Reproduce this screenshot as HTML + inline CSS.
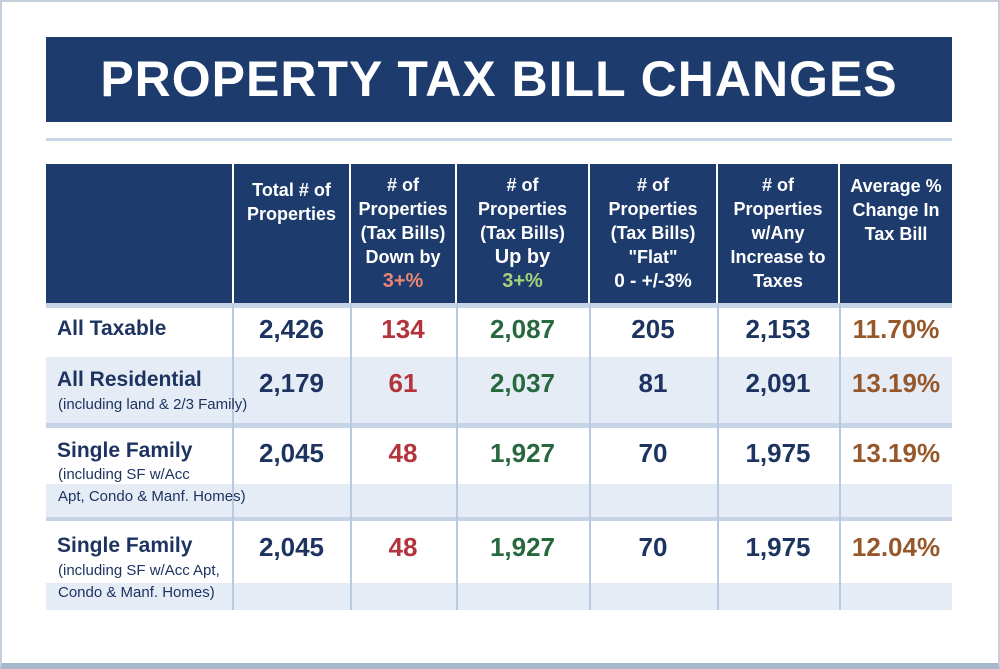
<!DOCTYPE html>
<html><head><meta charset="utf-8"><style>
body{margin:0;width:1000px;height:667px;overflow:hidden;background:#fff;font-family:"Liberation Sans",sans-serif;position:relative}
.a{position:absolute}
.frame{left:0;top:0;width:996px;height:661px;border:2px solid #c5cfdc;border-bottom:6px solid #a8b8cc}
.title{left:46px;top:37px;width:906px;height:85px;background:#1d3b6c;color:#fff;font-weight:bold;font-size:50px;line-height:85px;text-align:center;letter-spacing:1px}
.hl{left:46px;top:138px;width:906px;height:3px;background:#c9d6e8}
.hd{top:164px;height:139px;background:#1d3b6c;color:#fff;font-weight:bold;font-size:18px;line-height:24px;text-align:center;box-sizing:border-box;padding-top:9px}
.band{left:46px;width:906px;background:#e5ecf6}
.vl{width:2px;background:#b9c9e0}
.num{font-weight:bold;font-size:26px;text-align:center;color:#1d3461}
.lab{left:57px;font-weight:bold;font-size:21px;color:#1d3461}
.sub{left:58px;font-size:15px;color:#1d3461;line-height:22px}
</style></head><body>
<div class="a frame"></div>
<div class="a title">PROPERTY TAX BILL CHANGES</div>
<div class="a hl"></div>

<div class="a hd" style="left:46px;width:186px"></div>
<div class="a hd" style="left:234px;width:115px;padding-top:14px">Total # of<br>Properties</div>
<div class="a hd" style="left:351px;width:104px">#&nbsp;of<br>Properties<br>(Tax Bills)<br>Down by<br><span style="color:#ec8574;font-size:20px">3+%</span></div>
<div class="a hd" style="left:457px;width:131px">#&nbsp;of<br>Properties<br>(Tax Bills)<br><span style="font-size:20px">Up by</span><br><span style="color:#a6d17a;font-size:20px">3+%</span></div>
<div class="a hd" style="left:590px;width:126px">#&nbsp;of<br>Properties<br>(Tax Bills)<br>"Flat"<br><span style="font-size:19px">0 - +/-3%</span></div>
<div class="a hd" style="left:718px;width:120px">#&nbsp;of<br>Properties<br>w/Any<br>Increase to<br>Taxes</div>
<div class="a hd" style="left:840px;width:112px;padding-top:10px">Average %<br>Change In<br>Tax Bill</div>

<div class="a band" style="top:303px;height:5px;background:#c7d4e7"></div>
<div class="a band" style="top:357px;height:66px"></div>
<div class="a band" style="top:423px;height:5px;background:#c7d4e7"></div>
<div class="a band" style="top:484px;height:33px"></div>
<div class="a band" style="top:517px;height:4px;background:#c7d4e7"></div>
<div class="a band" style="top:583px;height:27px"></div>

<div class="a vl" style="left:232px;top:303px;height:307px"></div>
<div class="a vl" style="left:350px;top:303px;height:307px"></div>
<div class="a vl" style="left:456px;top:303px;height:307px"></div>
<div class="a vl" style="left:589px;top:303px;height:307px"></div>
<div class="a vl" style="left:717px;top:303px;height:307px"></div>
<div class="a vl" style="left:839px;top:303px;height:307px"></div>

<div class="a lab" style="top:317px">All Taxable</div>
<div class="a lab" style="top:368px">All Residential</div>
<div class="a sub" style="top:394px">(including land &amp; 2/3 Family)</div>
<div class="a lab" style="top:439px">Single Family</div>
<div class="a sub" style="top:464px">(including SF w/Acc<br>Apt, Condo &amp; Manf. Homes)</div>
<div class="a lab" style="top:534px">Single Family</div>
<div class="a sub" style="top:560px">(including SF w/Acc Apt,<br>Condo &amp; Manf. Homes)</div>

<div class="a num" style="left:234px;width:115px;top:314px">2,426</div>
<div class="a num" style="left:351px;width:104px;top:314px;color:#b3343c">134</div>
<div class="a num" style="left:457px;width:131px;top:314px;color:#27683f">2,087</div>
<div class="a num" style="left:590px;width:126px;top:314px">205</div>
<div class="a num" style="left:718px;width:120px;top:314px">2,153</div>
<div class="a num" style="left:840px;width:112px;top:314px;color:#96582a">11.70%</div>

<div class="a num" style="left:234px;width:115px;top:368px">2,179</div>
<div class="a num" style="left:351px;width:104px;top:368px;color:#b3343c">61</div>
<div class="a num" style="left:457px;width:131px;top:368px;color:#27683f">2,037</div>
<div class="a num" style="left:590px;width:126px;top:368px">81</div>
<div class="a num" style="left:718px;width:120px;top:368px">2,091</div>
<div class="a num" style="left:840px;width:112px;top:368px;color:#96582a">13.19%</div>

<div class="a num" style="left:234px;width:115px;top:438px">2,045</div>
<div class="a num" style="left:351px;width:104px;top:438px;color:#b3343c">48</div>
<div class="a num" style="left:457px;width:131px;top:438px;color:#27683f">1,927</div>
<div class="a num" style="left:590px;width:126px;top:438px">70</div>
<div class="a num" style="left:718px;width:120px;top:438px">1,975</div>
<div class="a num" style="left:840px;width:112px;top:438px;color:#96582a">13.19%</div>

<div class="a num" style="left:234px;width:115px;top:532px">2,045</div>
<div class="a num" style="left:351px;width:104px;top:532px;color:#b3343c">48</div>
<div class="a num" style="left:457px;width:131px;top:532px;color:#27683f">1,927</div>
<div class="a num" style="left:590px;width:126px;top:532px">70</div>
<div class="a num" style="left:718px;width:120px;top:532px">1,975</div>
<div class="a num" style="left:840px;width:112px;top:532px;color:#96582a">12.04%</div>
</body></html>
